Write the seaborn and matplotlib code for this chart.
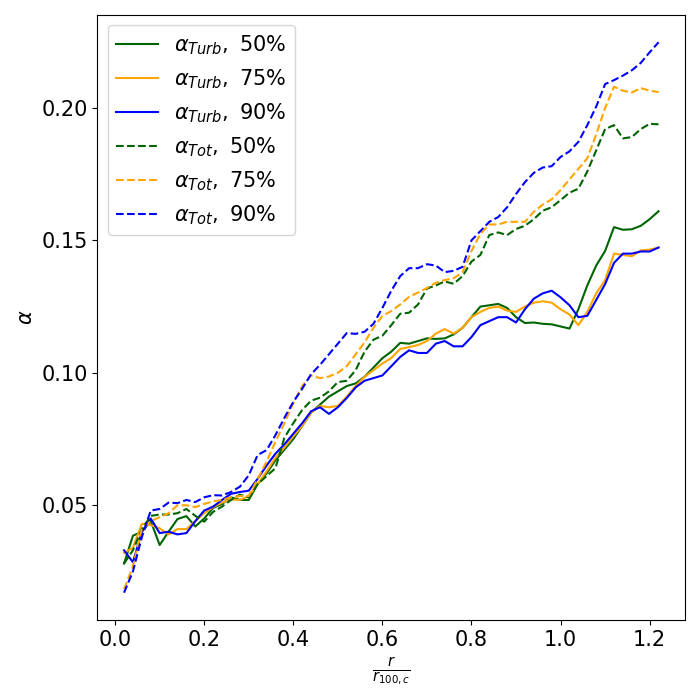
import numpy as np
import pandas as pd
import matplotlib
matplotlib.use("Agg")
import matplotlib.pyplot as plt
import seaborn as sns

# radius in units of r_100,c
r = [0.02, 0.04, 0.06, 0.08, 0.10, 0.12, 0.14, 0.16, 0.18, 0.20,
     0.22, 0.24, 0.26, 0.28, 0.30, 0.32, 0.34, 0.36, 0.38, 0.40,
     0.42, 0.44, 0.46, 0.48, 0.50, 0.52, 0.54, 0.56, 0.58, 0.60,
     0.62, 0.64, 0.66, 0.68, 0.70, 0.72, 0.74, 0.76, 0.78, 0.80,
     0.82, 0.84, 0.86, 0.88, 0.90, 0.92, 0.94, 0.96, 0.98, 1.00,
     1.02, 1.04, 1.06, 1.08, 1.10, 1.12, 1.14, 1.16, 1.18, 1.20, 1.22]

# alpha_Turb
turb_50 = [0.028, 0.0385, 0.040, 0.044, 0.035, 0.040, 0.0448, 0.0459, 0.042, 0.045,
           0.049, 0.0505, 0.053, 0.052, 0.052, 0.058, 0.062, 0.067, 0.071, 0.075,
           0.080, 0.085, 0.088, 0.091, 0.093, 0.095, 0.096, 0.0985, 0.102, 0.1055,
           0.108, 0.1113, 0.111, 0.112, 0.113, 0.1128, 0.113, 0.1145, 0.117, 0.121,
           0.125, 0.1255, 0.126, 0.1245, 0.121, 0.1188, 0.119, 0.1185, 0.1183, 0.1175,
           0.1167, 0.124, 0.133, 0.1405, 0.146, 0.155, 0.154, 0.1542, 0.1555, 0.158, 0.161]
turb_75 = [0.032, 0.034, 0.043, 0.0425, 0.0413, 0.039, 0.041, 0.041, 0.044, 0.047,
           0.0493, 0.051, 0.0522, 0.052, 0.0535, 0.058, 0.0628, 0.068, 0.0718, 0.076,
           0.080, 0.085, 0.0875, 0.087, 0.0875, 0.091, 0.095, 0.0985, 0.101, 0.1035,
           0.1056, 0.109, 0.1097, 0.1105, 0.112, 0.1148, 0.1165, 0.1148, 0.117, 0.121,
           0.123, 0.1245, 0.125, 0.1235, 0.123, 0.125, 0.1265, 0.127, 0.1265, 0.124,
           0.122, 0.118, 0.123, 0.130, 0.135, 0.145, 0.1445, 0.144, 0.1462, 0.1465, 0.1473]
turb_90 = [0.033, 0.0285, 0.040, 0.045, 0.0395, 0.040, 0.039, 0.0395, 0.044, 0.048,
           0.0495, 0.052, 0.0543, 0.055, 0.0555, 0.060, 0.065, 0.0695, 0.073, 0.077,
           0.081, 0.0855, 0.087, 0.0845, 0.087, 0.0905, 0.0945, 0.097, 0.098, 0.099,
           0.1025, 0.106, 0.1085, 0.1075, 0.1075, 0.111, 0.112, 0.110, 0.110, 0.1135,
           0.118, 0.1195, 0.121, 0.121, 0.119, 0.124, 0.128, 0.130, 0.131, 0.1285,
           0.1255, 0.121, 0.1215, 0.1275, 0.1335, 0.1415, 0.145, 0.145, 0.1458, 0.1458, 0.1473]

# alpha_Tot
tot_50 = [0.028, 0.033, 0.041, 0.046, 0.0465, 0.0465, 0.047, 0.0486, 0.046, 0.0438,
          0.0475, 0.0495, 0.052, 0.054, 0.053, 0.058, 0.061, 0.064, 0.0755, 0.081,
          0.086, 0.0895, 0.0906, 0.093, 0.0965, 0.097, 0.101, 0.108, 0.1125, 0.114,
          0.118, 0.1223, 0.1227, 0.1258, 0.1318, 0.133, 0.1345, 0.1336, 0.1365, 0.142,
          0.1445, 0.152, 0.153, 0.152, 0.1543, 0.1555, 0.158, 0.1612, 0.1625, 0.1652,
          0.168, 0.1695, 0.176, 0.184, 0.192, 0.1935, 0.1885, 0.189, 0.192, 0.194, 0.1938]
tot_75 = [0.0183, 0.027, 0.041, 0.044, 0.0455, 0.047, 0.050, 0.050, 0.0493, 0.0505,
          0.0515, 0.052, 0.053, 0.0535, 0.0535, 0.060, 0.0665, 0.074, 0.081, 0.0885,
          0.095, 0.099, 0.098, 0.0986, 0.100, 0.1025, 0.107, 0.1115, 0.117, 0.1215,
          0.1233, 0.1258, 0.1287, 0.1303, 0.132, 0.134, 0.135, 0.1357, 0.138, 0.146,
          0.1525, 0.156, 0.156, 0.157, 0.157, 0.157, 0.1608, 0.1635, 0.1655, 0.169,
          0.173, 0.177, 0.181, 0.190, 0.200, 0.208, 0.2065, 0.2058, 0.2075, 0.2065, 0.206]
tot_90 = [0.017, 0.025, 0.038, 0.048, 0.0486, 0.051, 0.0508, 0.052, 0.0512, 0.053,
          0.0538, 0.0537, 0.055, 0.057, 0.0613, 0.069, 0.0708, 0.0765, 0.083, 0.089,
          0.094, 0.0995, 0.103, 0.107, 0.111, 0.115, 0.1147, 0.1155, 0.1185, 0.1245,
          0.131, 0.1365, 0.1395, 0.1395, 0.141, 0.1405, 0.138, 0.1385, 0.140, 0.150,
          0.1535, 0.157, 0.1588, 0.1625, 0.1675, 0.172, 0.1755, 0.1775, 0.178, 0.1815,
          0.1836, 0.1872, 0.1935, 0.2005, 0.209, 0.2105, 0.2122, 0.2142, 0.217, 0.221, 0.2248]

series = [
    (turb_50, r"$\alpha_{Turb},\ 50\%$", "darkgreen", "-"),
    (turb_75, r"$\alpha_{Turb},\ 75\%$", "orange", "-"),
    (turb_90, r"$\alpha_{Turb},\ 90\%$", "blue", "-"),
    (tot_50, r"$\alpha_{Tot},\ 50\%$", "darkgreen", "--"),
    (tot_75, r"$\alpha_{Tot},\ 75\%$", "orange", "--"),
    (tot_90, r"$\alpha_{Tot},\ 90\%$", "blue", "--"),
]

# plain matplotlib look (black text, boxed axes, no grid)
plt.rcParams["font.family"] = ["DejaVu Sans"]

fig, ax = plt.subplots(figsize=(7, 7), dpi=100)

for vals, lab, col, ls in series:
    sns.lineplot(x=r, y=vals, color=col, linestyle=ls, label=lab, ax=ax, linewidth=1.5)

ax.set_xlabel(r"$\frac{r}{r_{100,c}}$", fontsize=15)
ax.set_ylabel(r"$\alpha$", fontsize=15)
ax.tick_params(labelsize=15)
ax.legend(loc="upper left", fontsize=15)

plt.subplots_adjust(left=0.139, right=0.979, top=0.979, bottom=0.114)
plt.savefig("out.png", dpi=100)
